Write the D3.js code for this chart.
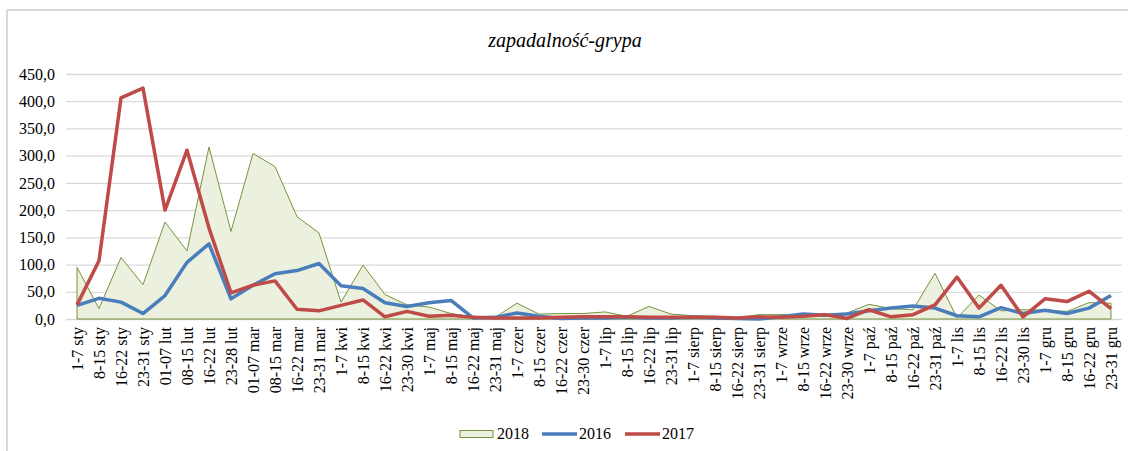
<!DOCTYPE html>
<html>
<head>
<meta charset="utf-8">
<script src="https://cdnjs.cloudflare.com/ajax/libs/d3/7.8.5/d3.min.js"></script>
<style>
  body { margin: 0; background: #fff; }
</style>
</head>
<body>
<svg width="1128" height="451"></svg>
<script>
const titleText = 'zapadalność-grypa';
const FONT = "'Liberation Serif'";

const categories = [
  '1-7 sty', '8-15 sty', '16-22 sty', '23-31 sty',
  '01-07 lut', '08-15 lut', '16-22 lut', '23-28 lut',
  '01-07 mar', '08-15 mar', '16-22 mar', '23-31 mar',
  '1-7 kwi', '8-15 kwi', '16-22 kwi', '23-30 kwi',
  '1-7 maj', '8-15 maj', '16-22 maj', '23-31 maj',
  '1-7 czer', '8-15 czer', '16-22 czer', '23-30 czer',
  '1-7 lip', '8-15 lip', '16-22 lip', '23-31 lip',
  '1-7 sierp', '8-15 sierp', '16-22 sierp', '23-31 sierp',
  '1-7 wrze', '8-15 wrze', '16-22 wrze', '23-30 wrze',
  '1-7 paź', '8-15 paź', '16-22 paź', '23-31 paź',
  '1-7 lis', '8-15 lis', '16-22 lis', '23-30 lis',
  '1-7 gru', '8-15 gru', '16-22 gru', '23-31 gru'
];

const values2018 = [
  95, 19, 113, 63, 178, 125, 316, 161, 304, 280, 188, 158,
  31, 99, 45, 26, 22, 10, 4, 3, 29, 9, 10, 10,
  13, 5, 23, 9, 6, 5, 2, 8, 8, 7, 8, 11,
  27, 19, 17, 84, 2, 44, 15, 17, 16, 14, 30, 29
];

const values2016 = [
  25, 38, 31, 10, 43, 104, 138, 37, 62, 83, 89, 102,
  61, 56, 30, 23, 30, 34, 2, 3, 11, 5, 1, 2,
  2, 3, 2, 2, 3, 2, 1, 0, 4, 9, 7, 9,
  15, 20, 24, 20, 6, 4, 21, 10, 16, 10, 20, 43
];

const values2017 = [
  26, 107, 406, 424, 200, 310, 167, 48, 62, 70, 18, 15,
  25, 35, 4, 14, 5, 7, 3, 2, 2, 2, 3, 4,
  4, 4, 3, 3, 3, 3, 2, 4, 3, 5, 8, 1,
  17, 4, 8, 26, 77, 20, 62, 4, 37, 32, 51, 19
];

const yTicks = [0, 50, 100, 150, 200, 250, 300, 350, 400, 450];

const svg = d3.select('svg');
const width = +svg.attr('width');
const height = +svg.attr('height');

// chart frame (light grey, top + left)
svg.append('line').attr('x1', 7).attr('x2', width).attr('y1', 10).attr('y2', 10)
  .attr('stroke', '#d9d9d9').attr('stroke-width', 2);
svg.append('line').attr('x1', 7).attr('x2', 7).attr('y1', 10).attr('y2', height)
  .attr('stroke', '#d9d9d9').attr('stroke-width', 2);

const margin = { top: 74, right: 6, bottom: 132, left: 66 };
const innerWidth = width - margin.left - margin.right;
const innerHeight = height - margin.top - margin.bottom;

const g = svg.append('g')
  .attr('transform', `translate(${margin.left},${margin.top})`);

const xScale = d3.scaleBand()
  .domain(categories)
  .range([0, innerWidth])
  .padding(0);

const xPos = d => xScale(d) + xScale.bandwidth() / 2;

const yScale = d3.scaleLinear()
  .domain([0, 450])
  .range([innerHeight, 0]);

const fmt = v => d3.format('.1f')(v).replace('.', ',');

// y axis with gridlines
const yAxisG = g.append('g')
  .call(d3.axisLeft(yScale).tickValues(yTicks).tickFormat(fmt).tickSize(-innerWidth).tickPadding(11));
yAxisG.select('.domain').remove();
yAxisG.selectAll('.tick line').attr('stroke', '#d9d9d9').attr('stroke-width', 1.3);
yAxisG.selectAll('.tick text')
  .style('font-family', FONT)
  .style('font-size', '16px')
  .attr('fill', '#000');

// x axis labels, rotated
const xAxisG = g.append('g')
  .attr('transform', `translate(0,${innerHeight})`)
  .call(d3.axisBottom(xScale).tickSize(0));
xAxisG.select('.domain').remove();
xAxisG.selectAll('.tick text')
  .style('font-family', FONT)
  .style('font-size', '16px')
  .attr('fill', '#000')
  .attr('text-anchor', 'end')
  .attr('transform', 'rotate(-90)')
  .attr('x', -8)
  .attr('y', 0)
  .attr('dy', '0.35em');

// 2018 area
const area = d3.area()
  .x((d, i) => xPos(categories[i]))
  .y0(yScale(0))
  .y1(d => yScale(d));

g.append('path')
  .datum(values2018)
  .attr('d', d => area(d) + 'Z')
  .attr('fill', '#ebf1de')
  .attr('stroke', '#77933c')
  .attr('stroke-width', 1);

const line = d3.line()
  .x((d, i) => xPos(categories[i]))
  .y(d => yScale(d));

g.append('path')
  .datum(values2016)
  .attr('d', line)
  .attr('fill', 'none')
  .attr('stroke', '#4a7ebb')
  .attr('stroke-width', 3.5)
  .attr('stroke-linejoin', 'round');

g.append('path')
  .datum(values2017)
  .attr('d', line)
  .attr('fill', 'none')
  .attr('stroke', '#be4b48')
  .attr('stroke-width', 3.5)
  .attr('stroke-linejoin', 'round');

// title
svg.append('text')
  .attr('x', 565)
  .attr('y', 47)
  .attr('text-anchor', 'middle')
  .style('font-family', FONT)
  .style('font-size', '20px')
  .style('font-style', 'italic')
  .text(titleText);

// legend
const legend = svg.append('g')
  .attr('transform', 'translate(460,434)');
legend.append('rect')
  .attr('x', 0).attr('y', -3.5).attr('width', 33).attr('height', 7)
  .attr('fill', '#ebf1de').attr('stroke', '#77933c').attr('stroke-width', 1);
legend.append('line').attr('x1', 82).attr('x2', 117).attr('y1', 0).attr('y2', 0)
  .attr('stroke', '#4a7ebb').attr('stroke-width', 3.5);
legend.append('line').attr('x1', 165).attr('x2', 200).attr('y1', 0).attr('y2', 0)
  .attr('stroke', '#be4b48').attr('stroke-width', 3.5);
legend.selectAll('text')
  .data([['2018', 37], ['2016', 119], ['2017', 202]])
  .enter().append('text')
  .attr('x', d => d[1])
  .attr('y', 5)
  .style('font-family', FONT)
  .style('font-size', '16px')
  .text(d => d[0]);
</script>
</body>
</html>
